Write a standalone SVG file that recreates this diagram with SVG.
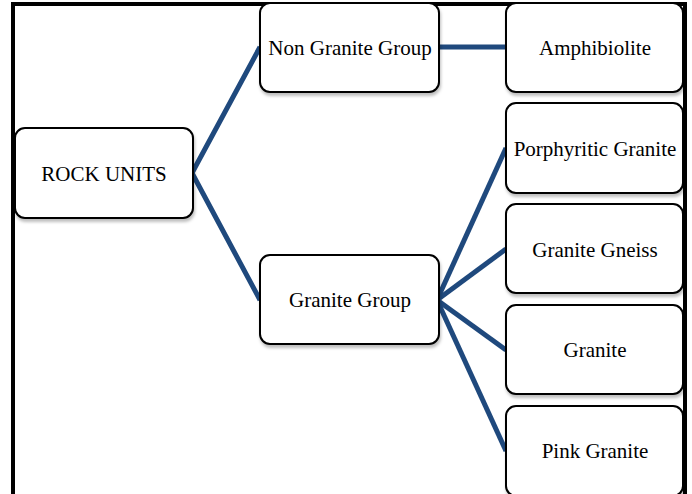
<svg xmlns="http://www.w3.org/2000/svg" width="692" height="494" viewBox="0 0 692 494">
<defs>
<filter id="sh" x="-10%" y="-10%" width="120%" height="130%">
<feDropShadow dx="1" dy="3" stdDeviation="1.5" flood-color="#000" flood-opacity="0.25"/>
</filter>
<style>
.box{fill:#fff;stroke:#000;stroke-width:2;filter:url(#sh)}
.lbl{font-family:"Liberation Serif","Times New Roman",serif;font-size:21px;fill:#000;text-anchor:middle}
.con{stroke:#1F497D;stroke-width:5;fill:none;stroke-linejoin:miter}
</style>
</defs>
<rect width="692" height="494" fill="#fff"/>
<path d="M13,494 V4 H685 V494" fill="none" stroke="#000" stroke-width="4"/>
<g id="connectors">
<polyline class="con" points="260,47 192,173 260,300"/>
<line class="con" x1="439" y1="47" x2="506" y2="47"/>
<line class="con" x1="437" y1="300" x2="506" y2="148"/>
<line class="con" x1="437" y1="300" x2="506" y2="249"/>
<line class="con" x1="437" y1="300" x2="506" y2="350"/>
<line class="con" x1="437" y1="300" x2="506" y2="451"/>
</g>
<g id="rock-units"><rect class="box" x="15" y="128" width="178" height="90" rx="10"/><text class="lbl" x="104" y="181">ROCK UNITS</text></g>
<g id="non-granite-group"><rect class="box" x="260" y="3" width="179" height="89" rx="10"/><text class="lbl" x="350" y="55">Non Granite Group</text></g>
<g id="granite-group"><rect class="box" x="260" y="255" width="179" height="89" rx="10"/><text class="lbl" x="350" y="307">Granite Group</text></g>
<g id="amphibiolite"><rect class="box" x="506" y="3" width="177" height="89" rx="10"/><text class="lbl" x="595" y="55">Amphibiolite</text></g>
<g id="porphyritic-granite"><rect class="box" x="506" y="103" width="177" height="90" rx="10"/><text class="lbl" x="595" y="156">Porphyritic Granite</text></g>
<g id="granite-gneiss"><rect class="box" x="506" y="204" width="177" height="89" rx="10"/><text class="lbl" x="595" y="257">Granite Gneiss</text></g>
<g id="granite"><rect class="box" x="506" y="305" width="177" height="89" rx="10"/><text class="lbl" x="595" y="357">Granite</text></g>
<g id="pink-granite"><rect class="box" x="506" y="406" width="177" height="90" rx="10"/><text class="lbl" x="595" y="458">Pink Granite</text></g>
</svg>
